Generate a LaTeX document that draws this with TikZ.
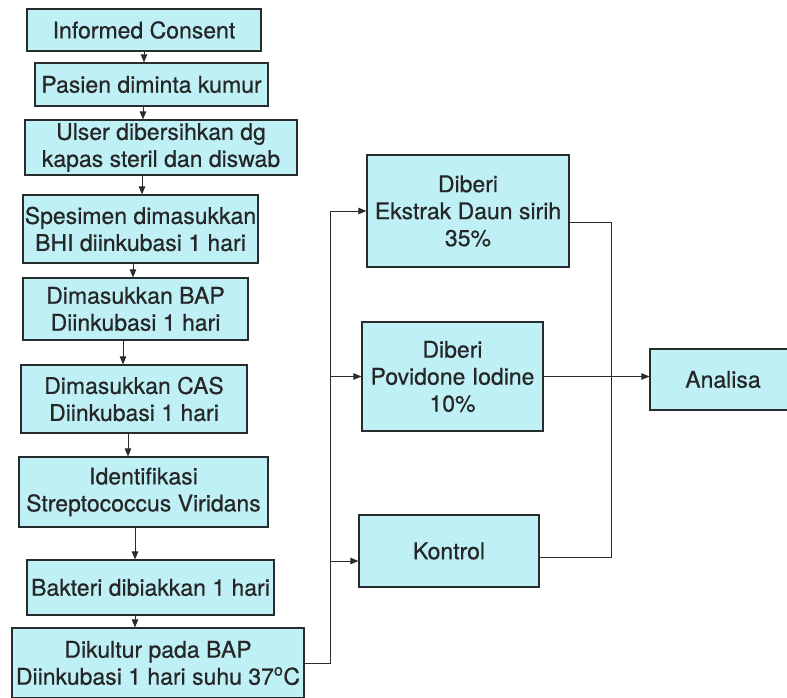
\documentclass[tikz,border=0pt]{standalone}
\usepackage{fontspec}
\setmainfont[FakeBold=0.5]{TeX Gyre Heros}
\usepackage{tikz}
\usetikzlibrary{arrows.meta}
\usetikzlibrary{positioning}

\definecolor{boxcyan}{RGB}{190,240,246}
\definecolor{inkgray}{RGB}{40,44,44}

\begin{document}
\begin{tikzpicture}[x=1pt,y=-1pt,
    stage/.style={draw=inkgray, line width=1.2pt, fill=boxcyan, inner sep=0pt,
      align=center, text=black!85, font=\fontsize{23}{27}\selectfont},
    link/.style={draw=inkgray, line width=1pt},
    arr/.style={link, -{Triangle[length=8pt,width=6.5pt]}}]
  \useasboundingbox (0,0) rectangle (787,698);
  \clip (0,0) rectangle (787,698);

  % left column
  \node[stage, minimum width=234, minimum height=42] (inf) at (144,30) {Informed Consent};
  \node[stage, minimum width=233, minimum height=43] (kum) at (151.5,84.5) {Pasien diminta kumur};
  \node[stage, minimum width=272, minimum height=55] (uls) at (161,147.5) {Ulser dibersihkan dg\\kapas steril dan diswab};
  \node[stage, minimum width=235, minimum height=68] (spe) at (140.5,229) {Spesimen dimasukkan\\BHI diinkubasi 1 hari};
  \node[stage, minimum width=225, minimum height=62] (bap) at (135.5,309) {Dimasukkan BAP\\Diinkubasi 1 hari};
  \node[stage, minimum width=226, minimum height=68] (cas) at (134,399) {Dimasukkan CAS\\Diinkubasi 1 hari};
  \node[stage, minimum width=249, minimum height=70] (ide) at (143.5,492) {Identifikasi\\Streptococcus Viridans};
  \node[stage, minimum width=247, minimum height=55] (bak) at (150.5,587.5) {Bakteri dibiakkan 1 hari};
  \node[stage, minimum width=292, minimum height=70] (kul) at (158,663) {Dikultur pada BAP\\Diinkubasi 1 hari suhu 37\textsuperscript{o}C};

  % right column
  \node[stage, minimum width=202, minimum height=112] (ekst) at (468,211) {Diberi\\Ekstrak Daun sirih\\35\%};
  \node[stage, minimum width=181, minimum height=109] (pov) at (452.5,376.5) {Diberi\\Povidone Iodine\\10\%};
  \node[stage, minimum width=180, minimum height=72] (kon) at (449,551) {Kontrol};
  \node[stage, minimum width=146, minimum height=61] (ana) at (723,379.5) {Analisa};

  \coordinate (busL) at (330,0);
  \coordinate (busR) at (611,0);

  % steps
  \draw[arr] (inf.south) -- (inf.south |- kum.north);
  \draw[arr] ([xshift=-8.5pt]kum.south) -- ([xshift=-8.5pt]kum.south |- uls.north);
  \draw[arr] ([xshift=-19pt]uls.south) -- ([xshift=-19pt]uls.south |- spe.north);
  \draw[arr] ([xshift=-7.5pt]spe.south) -- ([xshift=-7.5pt]spe.south |- bap.north);
  \draw[arr] ([xshift=-12.5pt]bap.south) -- ([xshift=-12.5pt]bap.south |- cas.north);
  \draw[arr] ([xshift=-6pt]cas.south) -- ([xshift=-6pt]cas.south |- ide.north);
  \draw[arr] ([xshift=-8.5pt]ide.south) -- ([xshift=-8.5pt]ide.south |- bak.north);
  \draw[arr] ([xshift=-15.5pt]bak.south) -- ([xshift=-15.5pt]bak.south |- kul.north);

  % split into groups
  \draw[arr] (kul.east) -| (busL |- ekst.west) -- (ekst.west);
  \draw[arr] (busL |- pov.west) -- (pov.west);
  \draw[arr] ([yshift=-10pt]busL |- kon.west) -- ([yshift=-10pt]kon.west);

  % join to analisa
  \draw[link] ([yshift=-11pt]ekst.east) -| ([yshift=-6pt]busR |- kon.east) -- ([yshift=-6pt]kon.east);
  \draw[arr] (pov.east) -- (pov.east -| ana.west);
\end{tikzpicture}
\end{document}
